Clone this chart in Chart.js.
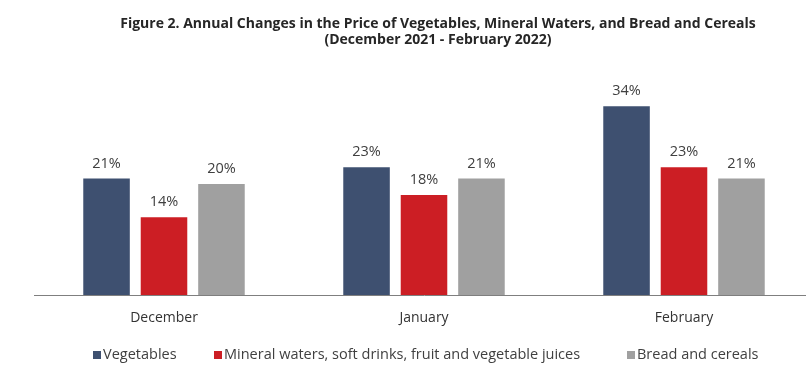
<!DOCTYPE html>
<html>
<head>
<meta charset="utf-8">
<script src="https://cdn.jsdelivr.net/npm/chart.js@4/dist/chart.umd.min.js"></script>
<style>
  html, body { margin: 0; padding: 0; background: #fff; overflow: hidden; }
  #wrap { width: 820px; height: 367px; }
</style>
</head>
<body>
<div id="wrap"><canvas id="c" width="820" height="367"></canvas></div>
<script>
const months = ['December', 'January', 'February'];
const vegetables = [21, 23, 34];
const mineralWaters = [14, 18, 23];
const breadCereals = [20, 21, 21];
const seriesNames = ['Vegetables', 'Mineral waters, soft drinks, fruit and vegetable juices', 'Bread and cereals'];
const titleLines = ['Figure 2. Annual Changes in the Price of Vegetables, Mineral Waters, and Bread and Cereals', '(December 2021 - February 2022)'];

const FONT = '"Open Sans", Lato, sans-serif';

// Percentage labels above every bar
const valueLabels = {
  id: 'valueLabels',
  afterDatasetsDraw(chart) {
    const ctx = chart.ctx;
    ctx.save();
    ctx.font = '14.5px ' + FONT;
    ctx.fillStyle = '#404040';
    ctx.textAlign = 'center';
    ctx.textBaseline = 'middle';
    chart.data.datasets.forEach((ds, i) => {
      chart.getDatasetMeta(i).data.forEach((el, j) => {
        ctx.fillText(ds.data[j] + '%', el.x, el.y - 15);
      });
    });
    ctx.restore();
  }
};

// Two-line heading and the legend row under the axis
const decorations = {
  id: 'decorations',
  afterDraw(chart, args, opts) {
    const ctx = chart.ctx;
    ctx.save();
    ctx.fillStyle = '#262626';
    ctx.textAlign = 'center';
    ctx.textBaseline = 'alphabetic';
    ctx.font = 'bold 14px ' + FONT;
    titleLines.forEach((t, i) => ctx.fillText(t, opts.titleX, opts.titleY + i * 16));

    ctx.font = '14.5px ' + FONT;
    ctx.textAlign = 'left';
    ctx.textBaseline = 'middle';
    chart.data.datasets.forEach((ds, i) => {
      const x = opts.legendX[i];
      ctx.fillStyle = ds.backgroundColor;
      ctx.fillRect(x, opts.legendY - 4, 8, 8);
      ctx.fillStyle = '#404040';
      ctx.fillText(ds.label, x + 10, opts.legendY);
    });
    ctx.restore();
  }
};

new Chart(document.getElementById('c'), {
  type: 'bar',
  data: {
    labels: months,
    datasets: [
      { label: seriesNames[0], data: vegetables, backgroundColor: '#3E5070' },
      { label: seriesNames[1], data: mineralWaters, backgroundColor: '#CC1E24' },
      { label: seriesNames[2], data: breadCereals, backgroundColor: '#A0A0A0' }
    ]
  },
  options: {
    responsive: false,
    animation: false,
    layout: { padding: { left: 34, right: 6, top: 73, bottom: 0 } },
    datasets: { bar: { categoryPercentage: 0.663, barPercentage: 0.81 } },
    plugins: {
      legend: { display: false },
      title: { display: false },
      tooltip: { enabled: false },
      decorations: { titleX: 438, titleY: 28, legendX: [93, 214, 627], legendY: 355 }
    },
    scales: {
      x: {
        grid: { display: false },
        border: { display: true, color: '#7F7F7F', width: 1 },
        ticks: { color: '#333333', font: { family: FONT, size: 14 }, padding: 7 },
        afterFit(scale) { scale.height = 72; }
      },
      y: { display: false, min: 0, max: 40 }
    }
  },
  plugins: [valueLabels, decorations]
});
</script>
</body>
</html>
